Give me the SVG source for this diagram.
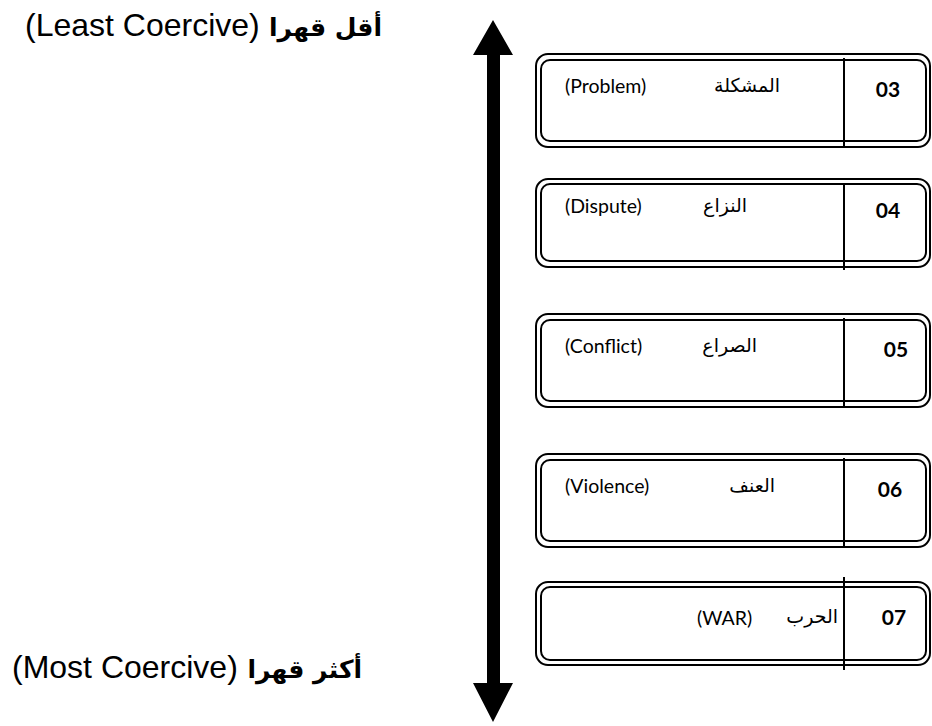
<svg xmlns="http://www.w3.org/2000/svg" width="932" height="726" viewBox="0 0 932 726">
  <style>
    .outer { fill: none; stroke: #000; stroke-width: 2; }
    .inner { fill: none; stroke: #000; stroke-width: 2; }
    .div { stroke: #000; stroke-width: 2; }
    .lat { font-family: Lato, "Open Sans", "DejaVu Sans", sans-serif; font-size: 19.5px; fill: #000; }
    .ar { font-family: "DejaVu Sans", sans-serif; font-size: 19px; fill: #000; }
    .num { font-family: Lato, "Open Sans", sans-serif; font-size: 21px; font-weight: bold; fill: #000; text-anchor: middle; }
    .big { font-family: "Liberation Sans", Arial, sans-serif; font-size: 32px; fill: #000; }
    .bigar { font-family: "DejaVu Sans", sans-serif; font-size: 25px; font-weight: bold; fill: #000; }
  </style>

  <!-- scale labels -->
  <g id="label-least">
    <text class="big" x="25" y="36">(Least Coercive)</text>
    <text class="bigar" x="382" y="36" text-anchor="end">أقل قهرا</text>
  </g>
  <g id="label-most">
    <text class="big" x="12" y="678">(Most Coercive)</text>
    <text class="bigar" x="362" y="678" text-anchor="end">أكثر قهرا</text>
  </g>

  <!-- double-headed axis -->
  <g id="connectors">
    <polygon points="493,20 513,55 500,55 500,683 513,683 493,722 473,683 487,683 487,55 473,55" fill="#000"/>
  </g>

  <g id="node-03">
    <rect class="outer" x="536" y="54" width="394" height="93" rx="12"/>
    <rect class="inner" x="541" y="60" width="385" height="81" rx="9"/>
    <line class="div" x1="844" y1="58" x2="844" y2="148"/>
    <text class="lat" x="565" y="93">(Problem)</text>
    <text class="ar" x="780" y="92" text-anchor="end">المشكلة</text>
    <text class="num" x="888" y="97">03</text>
  </g>

  <g id="node-04">
    <rect class="outer" x="536" y="179" width="394" height="88" rx="12"/>
    <rect class="inner" x="541" y="184" width="385" height="77" rx="9"/>
    <line class="div" x1="844" y1="183" x2="844" y2="270"/>
    <text class="lat" x="565" y="213">(Dispute)</text>
    <text class="ar" x="747" y="212" text-anchor="end">النزاع</text>
    <text class="num" x="888" y="218">04</text>
  </g>

  <g id="node-05">
    <rect class="outer" x="536" y="314" width="394" height="93" rx="12"/>
    <rect class="inner" x="541" y="320" width="385" height="81" rx="9"/>
    <line class="div" x1="844" y1="318" x2="844" y2="408"/>
    <text class="lat" x="565" y="353">(Conflict)</text>
    <text class="ar" x="757" y="352" text-anchor="end">الصراع</text>
    <text class="num" x="896" y="357">05</text>
  </g>

  <g id="node-06">
    <rect class="outer" x="536" y="454" width="394" height="93" rx="12"/>
    <rect class="inner" x="541" y="460" width="385" height="81" rx="9"/>
    <line class="div" x1="844" y1="458" x2="844" y2="548"/>
    <text class="lat" x="565" y="493">(Violence)</text>
    <text class="ar" x="775" y="492" text-anchor="end">العنف</text>
    <text class="num" x="890" y="497">06</text>
  </g>

  <g id="node-07">
    <rect class="outer" x="536" y="582" width="394" height="83" rx="12"/>
    <rect class="inner" x="541" y="587" width="385" height="73" rx="9"/>
    <line class="div" x1="844" y1="577" x2="844" y2="670"/>
    <text class="lat" x="697" y="625">(WAR)</text>
    <text class="ar" x="838" y="623" text-anchor="end">الحرب</text>
    <text class="num" x="894" y="625">07</text>
  </g>
</svg>
